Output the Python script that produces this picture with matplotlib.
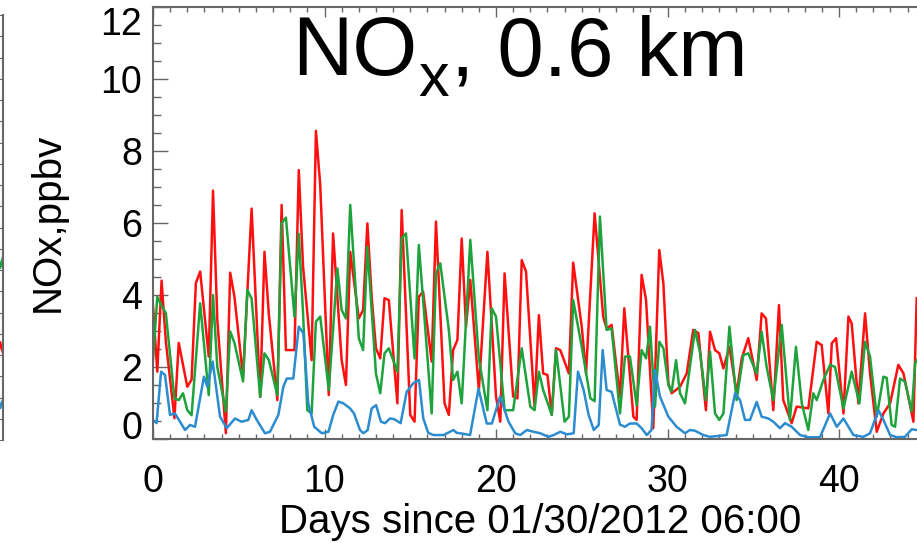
import numpy as np
import matplotlib
matplotlib.use("Agg")
import matplotlib.pyplot as plt
from matplotlib.ticker import MultipleLocator

plt.rcParams['font.family'] = ['Liberation Sans', 'DejaVu Sans']

# (day, ppbv) vertices, 6-hourly model output
red = [(0, 3.7), (0.25, 1.87), (0.5, 4.4), (0.75, 2.7), (1.25, 0.58), (1.5, 2.67), (2.0, 1.45),
       (2.25, 1.65), (2.5, 4.33), (2.75, 4.65), (3.25, 2.29), (3.5, 6.9), (3.75, 3.3), (4.25, 0.16),
       (4.5, 4.62), (4.75, 3.95), (5.25, 1.73), (5.75, 6.4), (6.25, 1.17), (6.5, 5.2), (6.75, 3.49),
       (7.25, 1.08), (7.5, 6.5), (7.75, 2.47), (8.25, 2.47), (8.5, 7.47), (8.75, 4.79), (9.25, 2.19),
       (9.5, 8.56), (9.75, 7.06), (10.25, 1.22), (10.5, 5.71), (11.0, 2.19), (11.25, 1.5), (11.5, 5.2),
       (12.0, 3.35), (12.25, 3.58), (12.5, 5.99), (12.75, 3.95), (13.0, 2.52), (13.25, 2.24),
       (13.5, 3.91), (13.75, 3.86), (14.25, 0.99), (14.5, 6.36), (15.0, 0.67), (15.25, 0.48),
       (15.5, 3.95), (15.75, 4.09), (16.25, 2.15), (16.5, 6.04), (17.0, 0.99), (17.25, 0.67),
       (17.5, 2.47), (17.75, 2.75), (18.0, 5.57), (18.25, 3.12), (18.5, 4.42), (19.0, 1.36),
       (19.5, 5.2), (20.0, 1.18), (20.25, 0.48), (20.5, 4.6), (21.0, 1.18), (21.25, 1.13),
       (21.5, 4.97), (21.75, 4.65), (22.25, 0.9), (22.5, 3.44), (22.75, 1.82), (23.0, 1.78),
       (23.25, 0.67), (23.5, 2.52), (23.75, 2.47), (24.25, 1.82), (24.5, 4.9), (25.0, 3.12),
       (25.25, 1.82), (25.75, 6.27), (26.25, 3.4), (26.45, 3.07), (26.74, 3.17), (27.23, 1.17),
       (27.48, 3.63), (28.01, 0.62), (28.2, 0.53), (28.49, 4.56), (28.75, 3.86), (29.17, 0.3),
       (29.52, 5.25), (29.76, 4.32), (30.05, 1.55), (30.24, 1.27), (30.73, 1.45), (31.12, 1.82),
       (31.5, 3.03), (31.8, 2.94), (32.24, 0.8), (32.48, 2.98), (32.77, 2.47), (33.02, 2.38),
       (33.26, 1.96), (33.61, 2.56), (34.03, 1.27), (34.33, 2.24), (34.71, 2.8), (35.2, 1.64),
       (35.49, 3.49), (35.74, 3.35), (36.17, 0.8), (36.5, 3.72), (36.75, 1.08), (37.24, 0.44),
       (37.53, 0.9), (38.21, 0.85), (38.7, 2.7), (38.99, 2.61), (39.38, 0.71), (39.58, 2.66),
       (39.83, 2.8), (40.26, 0.71), (40.55, 3.4), (40.74, 3.21), (41.13, 0.99), (41.52, 3.49),
       (41.81, 1.82), (42.2, 0.2), (42.59, 0.71), (42.98, 0.99), (43.46, 2.06), (43.76, 1.82),
       (44.34, 0.48), (44.53, 3.91)]

green = [(0, 2.19), (0.25, 3.95), (0.5, 3.7), (0.75, 3.5), (1.25, 1.13), (1.5, 1.08), (1.75, 1.27),
         (2.0, 0.8), (2.25, 0.66), (2.75, 3.77), (3.25, 1.22), (3.5, 4.0), (3.75, 2.0), (4.25, 0.76),
         (4.5, 2.99), (4.75, 2.67), (5.25, 1.6), (5.5, 4.14), (5.75, 3.9), (6.25, 1.17), (6.5, 2.38),
         (6.75, 2.2), (7.25, 1.22), (7.5, 6.0), (7.75, 6.15), (8.25, 3.4), (8.5, 5.7), (8.75, 3.49),
         (9.0, 0.8), (9.25, 0.71), (9.5, 3.26), (9.75, 3.4), (10.25, 1.36), (10.75, 4.74),
         (11.0, 3.58), (11.25, 3.35), (11.5, 6.5), (12.0, 2.8), (12.25, 2.47), (12.5, 5.34),
         (13.0, 1.82), (13.25, 1.27), (13.5, 2.38), (13.75, 2.52), (14.25, 1.87), (14.5, 5.57),
         (14.75, 5.71), (15.25, 2.24), (15.5, 5.39), (15.75, 3.86), (16.25, 0.71), (16.5, 4.6),
         (16.75, 4.88), (17.25, 3.03), (17.5, 1.64), (17.75, 1.87), (18.0, 0.99), (18.5, 5.53),
         (19.0, 2.24), (19.5, 0.8), (19.75, 3.63), (20.0, 3.4), (20.5, 0.8), (20.75, 0.8),
         (21.0, 0.8), (21.5, 2.52), (22.0, 0.9), (22.25, 0.8), (22.5, 1.87), (22.75, 1.36),
         (23.25, 0.67), (23.5, 2.47), (24.0, 0.48), (24.25, 0.62), (24.5, 3.86), (25.0, 2.56),
         (25.5, 1.13), (25.75, 1.05), (26.06, 6.18), (26.45, 3.03), (26.74, 3.07), (27.23, 0.71),
         (27.52, 2.29), (27.81, 2.29), (28.2, 0.94), (28.49, 2.47), (28.75, 2.24), (28.98, 3.12),
         (29.27, 0.9), (29.52, 2.7), (29.76, 2.52), (30.05, 1.5), (30.24, 1.31), (30.5, 2.19),
         (30.73, 1.27), (31.02, 0.99), (31.6, 3.03), (31.89, 2.43), (32.24, 1.08), (32.48, 2.43),
         (32.77, 0.71), (33.02, 0.53), (33.26, 0.71), (33.61, 3.12), (34.03, 1.08), (34.42, 2.33),
         (34.71, 2.38), (35.2, 1.82), (35.49, 2.98), (35.78, 2.0), (36.17, 1.08), (36.66, 3.17),
         (37.14, 0.53), (37.49, 2.56), (37.83, 0.99), (38.21, 0.25), (38.5, 1.27), (38.7, 1.08),
         (39.09, 1.64), (39.48, 2.06), (39.77, 2.0), (40.26, 0.85), (40.74, 1.87), (41.19, 0.99),
         (41.52, 2.7), (41.81, 2.29), (42.2, 0.62), (42.59, 1.73), (42.78, 1.7), (43.07, 0.39),
         (43.27, 0.34), (43.56, 1.68), (43.85, 1.59), (44.24, 0.76), (44.44, 2.1), (44.55, 2.2)]

blue = [(0, 0.53), (0.21, 0.44), (0.47, 1.87), (0.7, 1.78), (0.99, 0.67), (1.28, 0.71), (1.87, 0.25),
        (2.16, 0.39), (2.45, 0.34), (2.97, 1.73), (3.17, 1.45), (3.48, 2.15), (3.91, 0.62), (4.3, 0.3),
        (4.78, 0.57), (5.17, 0.48), (5.56, 0.53), (5.75, 0.8), (6.05, 0.53), (6.53, 0.16), (6.82, 0.2),
        (7.31, 0.67), (7.6, 1.45), (7.8, 1.68), (8.18, 1.68), (8.5, 3.12), (8.77, 2.94), (9.05, 1.0),
        (9.4, 0.34), (9.84, 0.16), (10.23, 0.2), (10.51, 0.67), (10.81, 1.04), (11.1, 0.99),
        (11.49, 0.85), (11.72, 0.71), (12.07, 0.25), (12.27, 0.16), (12.52, 0.25), (12.75, 0.85),
        (13.01, 0.94), (13.29, 0.48), (13.53, 0.44), (13.82, 0.57), (14.07, 0.55), (14.44, 0.44),
        (14.79, 1.31), (15.18, 1.55), (15.51, 1.64), (15.76, 0.57), (16.05, 0.17), (16.35, 0.11),
        (16.94, 0.11), (17.52, 0.25), (17.71, 0.17), (17.91, 0.16), (18.49, 0.11), (18.98, 1.4),
        (19.46, 0.43), (19.76, 0.43), (20.24, 1.18), (20.73, 0.48), (21.12, 0.16), (21.41, 0.11),
        (21.8, 0.25), (22.19, 0.2), (22.58, 0.16), (23.06, 0.06), (23.36, 0.11), (23.75, 0.2),
        (24.14, 0.13), (24.53, 0.16), (24.78, 1.87), (25.11, 1.36), (25.4, 0.67), (25.7, 0.25),
        (25.99, 0.39), (26.22, 2.47), (26.45, 1.36), (26.74, 1.31), (27.23, 0.4), (27.52, 0.34),
        (27.81, 0.43), (28.2, 0.43), (28.49, 0.3), (28.79, 0.11), (29.07, 0.25), (29.27, 1.92),
        (29.56, 1.18), (30.05, 0.62), (30.53, 0.34), (31.02, 0.16), (31.31, 0.25), (31.6, 0.23),
        (32.09, 0.11), (32.48, 0.06), (33.45, 0.11), (33.94, 1.27), (34.23, 1.08), (34.52, 0.53),
        (34.81, 0.53), (35.2, 1.03), (35.49, 0.62), (35.88, 0.57), (36.17, 0.48), (36.56, 0.3),
        (36.85, 0.44), (37.24, 0.34), (37.73, 0.11), (38.21, 0.05), (38.89, 0.05), (39.48, 0.71),
        (39.87, 0.34), (40.26, 0.57), (40.84, 0.11), (41.42, 0.06), (41.81, 0.16), (42.3, 0.8),
        (42.59, 0.53), (42.98, 0.11), (43.37, 0.05), (43.85, 0.06), (44.24, 0.27), (44.53, 0.25)]

# edge of the neighbouring panel that is cut off on the left
left_x = [-0.6, -0.3, 0.0]
left_green = [8.9, 8.1, 8.6]
left_red = [3.8, 4.6, 4.1]
left_blue = [2.2, 1.5, 1.9]

c_red = '#ff1010'
c_green = '#1ea33c'
c_blue = '#2b8ccf'
spine_c = '#666666'
lw_data = 1.8

W, H = 917, 543
fig = plt.figure(figsize=(W / 100, H / 100), dpi=100)

# cut-off panel on the left
ax0 = fig.add_axes([-0.1, 103 / H, 0.1 + 3 / W, 425 / H])
for (xs, ys, c) in [(left_x, left_green, c_green), (left_x, left_red, c_red), (left_x, left_blue, c_blue)]:
    ax0.plot(xs, ys, color=c, lw=lw_data)
ax0.set_xlim(-10, 0)
ax0.set_ylim(0, 20)
for s in ['left', 'top', 'bottom']:
    ax0.spines[s].set_visible(False)
ax0.spines['right'].set_color(spine_c)
ax0.spines['right'].set_linewidth(1.5)
ax0.yaxis.set_major_locator(MultipleLocator(1))
ax0.tick_params(axis='y', which='both', left=False, right=True, direction='in', length=3,
                color=spine_c, labelleft=False)
ax0.set_xticks([])

# main panel
ax = fig.add_axes([153 / W, 104 / H, (1000 - 153) / W, 432 / H])
px_per_day = 17.15
ax.set_xlim(0, (1000 - 153) / px_per_day)
ax.set_ylim(0, 12)

for data, c in [(red, c_red), (green, c_green), (blue, c_blue)]:
    d = np.array(data)
    ax.plot(d[:, 0], d[:, 1], color=c, lw=lw_data, solid_joinstyle='round')

for s in ax.spines.values():
    s.set_color(spine_c)
    s.set_linewidth(1.5)
ax.spines['right'].set_visible(False)

ax.xaxis.set_major_locator(MultipleLocator(10))
ax.xaxis.set_minor_locator(MultipleLocator(1))
ax.yaxis.set_major_locator(MultipleLocator(2))
ax.yaxis.set_minor_locator(MultipleLocator(0.5))
ax.tick_params(axis='x', which='major', direction='in', top=True, bottom=True, length=7,
               width=1, color=spine_c, labelsize=27, pad=18)
ax.tick_params(axis='x', which='minor', direction='in', top=True, bottom=True, length=3.5,
               width=1, color=spine_c)
ax.tick_params(axis='y', which='major', direction='in', left=True, right=False, length=11,
               width=1, color=spine_c, labelsize=27, pad=8)
ax.tick_params(axis='y', which='minor', direction='in', left=True, right=False, length=6,
               width=1, color=spine_c)

ax.set_yticks([0, 2, 4, 6, 8, 10, 12])
ylabs = ax.get_yticklabels()
ylabs[0].set_verticalalignment('baseline')
ylabs[-1].set_verticalalignment('top')

fig.text(540 / W, 1 - 533 / H, 'Days since 01/30/2012 06:00', fontsize=29, ha='center',
         va='baseline')
fig.text(48 / W, 1 - 222 / H, 'NOx,ppbv', rotation=90, fontsize=29, ha='center', va='center')

# title with a low subscript, built from three pieces
r = fig.canvas.get_renderer()
t1 = fig.text(292 / W, 1 - 75 / H, 'NO', fontsize=60, va='baseline')
x1 = t1.get_window_extent(r).x1
t2 = fig.text((x1 + 1) / W, 1 - 96 / H, 'x', fontsize=44, va='baseline')
x2 = t2.get_window_extent(r).x1
fig.text((x2 + 2) / W, 1 - 75 / H, ', 0.6 km', fontsize=60, va='baseline')

fig.savefig('out.png', dpi=100)
